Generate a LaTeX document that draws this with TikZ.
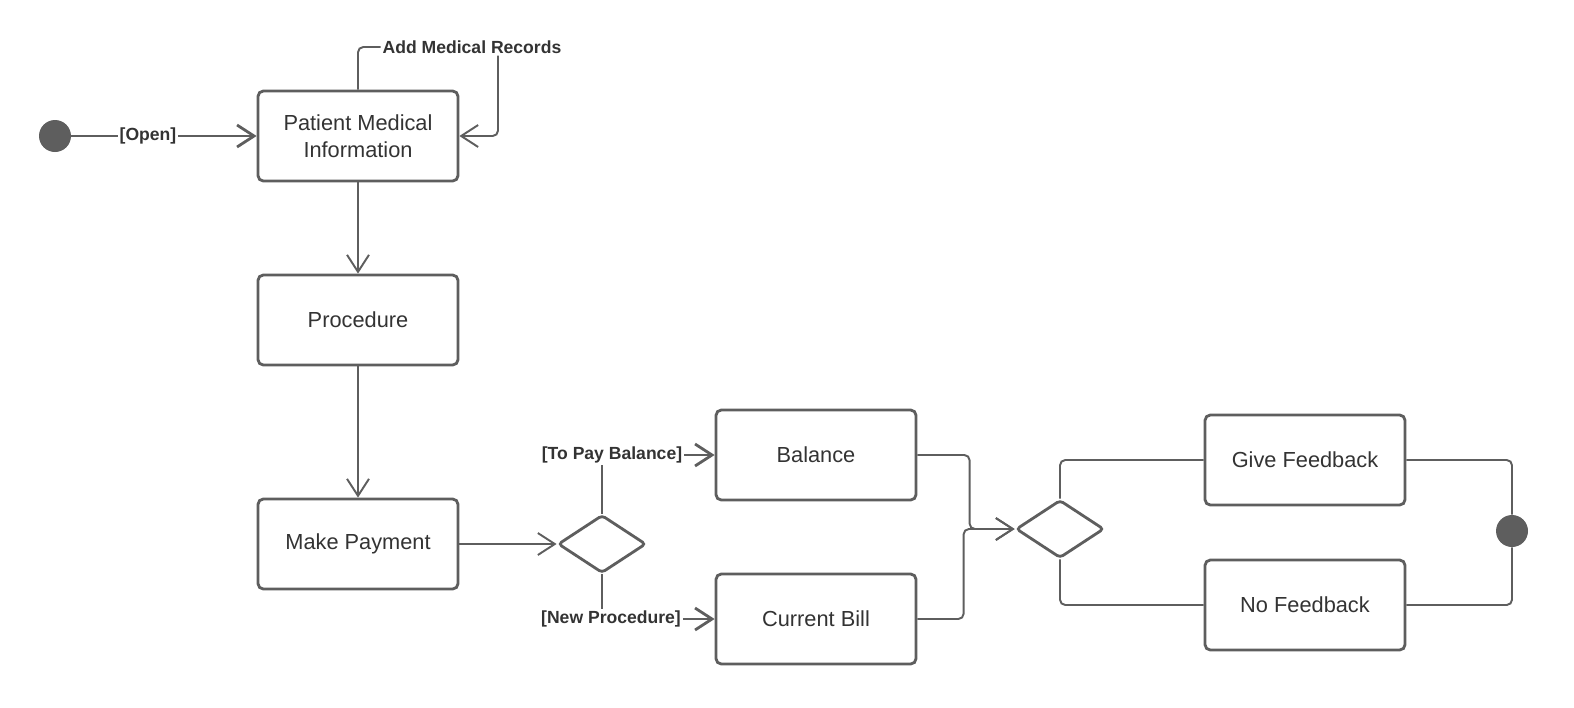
\documentclass[tikz,border=0pt]{standalone}
\usepackage{fontspec}
\setmainfont{Liberation Sans}
\usetikzlibrary{arrows.meta,positioning,shapes.geometric}
\definecolor{linegray}{HTML}{5E5E5E}
\definecolor{textgray}{HTML}{333333}
\tikzset{%
	state/.style    = {draw=linegray, line width=1.6pt, rectangle, rounded corners=3pt, minimum width=4cm, minimum height=1.8cm, text centered, align=center, text=textgray, font=\fontsize{12.4}{15.3}\selectfont},
	choice/.style   = {draw=linegray, line width=1.6pt, diamond, rounded corners=2pt, minimum width=1.76cm, minimum height=1.16cm, inner sep=0pt},
	dot/.style      = {circle, fill=linegray, minimum size=0.64cm, inner sep=0pt},
	guard/.style    = {text=textgray, font=\bfseries\fontsize{10}{12}\selectfont, inner sep=1pt},
	link/.style     = {draw=linegray, line width=1.1pt, rounded corners=3pt},
	arrow/.style    = {link, -{Straight Barb[length=3.4mm,width=4.4mm]}},
	heavy/.style    = {line width=1.6pt},
}
\begin{document}
\begin{tikzpicture}[x=0.02cm,y=-0.02cm]
		\useasboundingbox (0,0) rectangle (1574,707);
		% states
		\node[dot]    (start) at (55,136) {};
		\node[state]  (pmi)   at (358,136) {Patient Medical\\Information};
		\node[state]  (proc)  at (358,320) {Procedure};
		\node[state]  (pay)   at (358,544) {Make Payment};
		\node[choice] (split) at (602,544) {};
		\node[state]  (bal)   at (816,455) {Balance};
		\node[state]  (bill)  at (816,619) {Current Bill};
		\node[choice] (ask)   at (1060,529) {};
		\node[state]  (give)  at (1305,460) {Give Feedback};
		\node[state]  (none)  at (1305,605) {No Feedback};
		\node[dot]    (stop)  at (1512,531) {};
		
		% guards
		\node[guard] (open)    at (148,136) {[Open]};
		\node[guard] (addrec)  at (472,47)  {Add Medical Records};
		\node[guard] (topay)   at (612,455) {[To Pay Balance]};
		\node[guard] (newproc) at (611,619) {[New Procedure]};
		
		\draw[link,heavy] (start) -- (open);
		\draw[arrow,heavy] (open) -- (pmi);
		\draw[link] (pmi.north) |- (addrec.west);
		\draw[arrow] ([xshift=0.52cm]addrec.south) |- (pmi.east);
		\draw[arrow] (pmi) -- (proc);
		\draw[arrow] (proc) -- (pay);
		\draw[arrow] (pay) -- (split);
		
		\draw[link,heavy] (split.north) -- (topay.south -| split.north);
		\draw[arrow,heavy] (topay) -- (bal);
		\draw[link,heavy] (split.south) -- (newproc.north -| split.south);
		\draw[arrow,heavy] (newproc) -- (bill);
		
		\draw[arrow] (bal.east) -| ([xshift=-0.9cm]ask.west) -- (ask.west);
		\draw[arrow] (bill.east) -| ([xshift=-1.02cm]ask.west) -- (ask.west);
		
		\draw[link] (ask.north) |- (give.west);
		\draw[link] (ask.south) |- (none.west);
		\draw[link] (give.east) -| (stop.north);
		\draw[link] (none.east) -| (stop.south);
		
		\end{tikzpicture}
\end{document}
